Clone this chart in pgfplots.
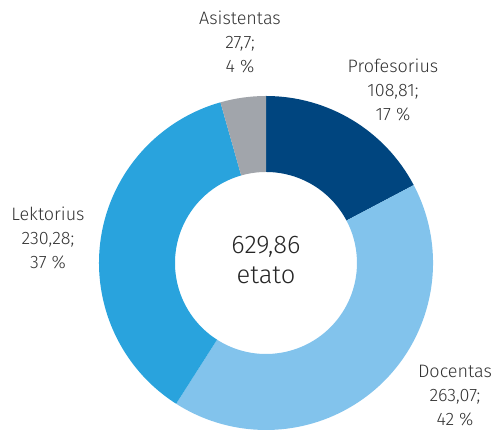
\documentclass[border=0pt]{standalone}
\usepackage{fontspec}
\setmainfont{Fira Sans}[UprightFont=* Light]
\usepackage{pgfplots}
\usepackage{pgfplotstable}
\pgfplotsset{compat=1.18}
\definecolor{c0}{HTML}{00457F}
\definecolor{c1}{HTML}{82C3EC}
\definecolor{c2}{HTML}{29A3DD}
\definecolor{c3}{HTML}{A1A5AB}
\definecolor{txt}{HTML}{333333}
\pgfplotstableread{
name value
Profesorius 108.81
Docentas 263.07
Lektorius 230.28
Asistentas 27.7
}\data
\def\total{0}
\pgfplotsforeachungrouped \i in {0,...,3}{%
  \pgfplotstablegetelem{\i}{value}\of\data
  \pgfmathsetmacro\total{\total+\pgfplotsretval}%
}
\def\cum{0}
\pgfplotsforeachungrouped \i in {0,...,3}{%
  \pgfplotstablegetelem{\i}{value}\of\data
  \pgfmathsetmacro\a{90-(\cum/\total)*360}%
  \pgfmathsetmacro\cum{\cum+\pgfplotsretval}%
  \pgfmathsetmacro\b{90-(\cum/\total)*360}%
  \expandafter\let\csname sa\i\endcsname\a
  \expandafter\let\csname ea\i\endcsname\b
}
\def\Ro{167}
\def\Ri{91}
\begin{document}
\begin{tikzpicture}
\useasboundingbox (0,0) rectangle (496pt,430pt);
\begin{axis}[
  at={(0,0)}, anchor=south west,
  scale only axis, width=496pt, height=430pt,
  xmin=-266, xmax=230, ymin=-167, ymax=263,
  hide axis, clip=false]
\pgfplotsinvokeforeach{0,...,3}{%
  \fill[c#1] (axis cs:{\Ro*cos(\csname sa#1\endcsname)},{\Ro*sin(\csname sa#1\endcsname)})
    arc[start angle=\csname sa#1\endcsname, end angle=\csname ea#1\endcsname, radius=\Ro pt]
    -- (axis cs:{\Ri*cos(\csname ea#1\endcsname)},{\Ri*sin(\csname ea#1\endcsname)})
    arc[start angle=\csname ea#1\endcsname, end angle=\csname sa#1\endcsname, radius=\Ri pt]
    -- cycle;
}
\tikzset{lbl/.style={align=center, text=txt, font=\fontsize{18}{24}\selectfont, inner sep=0pt}}
\node[lbl] at (axis cs:-26,221) {Asistentas\\27,7;\\4 \%};
\node[lbl] at (axis cs:127,173) {Profesorius\\108,81;\\17 \%};
\node[lbl] at (axis cs:-218,25) {Lektorius\\230,28;\\37 \%};
\node[lbl] at (axis cs:189,-133) {Docentas\\263,07;\\42 \%};
\node[align=center, text=black!85, font=\fontsize{25.5}{30}\selectfont, inner sep=0pt] at (axis cs:0,3) {629,86\\etato};
\end{axis}
\end{tikzpicture}
\end{document}
